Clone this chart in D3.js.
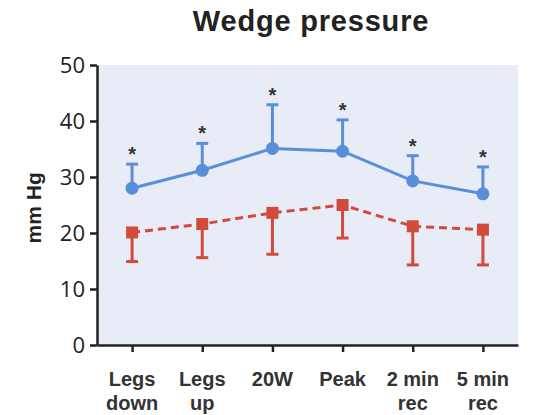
<!DOCTYPE html>
<html>
<head>
<meta charset="utf-8">
<script src="https://cdn.jsdelivr.net/npm/d3@7"></script>
<style>
  html, body { margin: 0; padding: 0; background: #fff; }
  svg { display: block; font-family: "Liberation Sans", Arial, sans-serif; }
</style>
</head>
<body>
<svg id="chart" width="539" height="415"></svg>
<script>
// Conditions along the x axis (two-line labels)
const categories = ["Legs down", "Legs up", "20W", "Peak", "2 min rec", "5 min rec"];
const categoryLines = [["Legs", "down"], ["Legs", "up"], ["20W"], ["Peak"], ["2 min", "rec"], ["5 min", "rec"]];

// Blue series: mean and upper error bar (mm Hg)
const blueMean = [28.0, 31.2, 35.1, 34.6, 29.3, 27.0];
const blueUpper = [32.3, 36.0, 42.9, 40.2, 33.8, 31.8];

// Red series: mean and lower error bar (mm Hg)
const redMean = [20.1, 21.6, 23.6, 25.0, 21.2, 20.6];
const redLower = [14.9, 15.6, 16.2, 19.1, 14.3, 14.3];

// Significance marks above the blue series
const significant = [true, true, true, true, true, true];

const yTicks = [0, 10, 20, 30, 40, 50];

const svg = d3.select("#chart");
const margin = { left: 97, right: 21, top: 65, bottom: 70 };
const W = 539, H = 415;
const plotW = W - margin.left - margin.right;
const plotH = H - margin.top - margin.bottom;

const blue = "#5b8ed8";
const red = "#d24a3c";
const ink = "#222";

const x = d3.scalePoint().domain(categories).range([0, plotW]).padding(0.5);
const y = d3.scaleLinear().domain([0, 50]).range([plotH, 0]);

// Title
svg.append("text")
  .attr("x", 311).attr("y", 31)
  .attr("text-anchor", "middle")
  .attr("font-size", 29).attr("font-weight", "bold")
  .attr("letter-spacing", 0.8)
  .attr("fill", "#222")
  .text("Wedge pressure");

const g = svg.append("g").attr("transform", `translate(${margin.left},${margin.top})`);

// Plot background
g.append("rect")
  .attr("x", 0).attr("y", 0)
  .attr("width", plotW).attr("height", plotH)
  .attr("fill", "#e8ecf7");

// Y axis
const yAxis = g.append("g")
  .call(d3.axisLeft(y).tickValues(yTicks).tickSize(7).tickPadding(5).tickSizeOuter(0));
yAxis.select(".domain").attr("stroke", ink).attr("stroke-width", 2.5);
yAxis.selectAll(".tick line").attr("stroke", ink).attr("stroke-width", 2.5);
yAxis.selectAll(".tick text")
  .attr("font-size", 22).attr("fill", ink)
  .attr("font-family", "'Open Sans', 'Liberation Sans', Arial, sans-serif");

// X axis
const xAxis = g.append("g")
  .attr("transform", `translate(0,${plotH})`)
  .call(d3.axisBottom(x).tickSize(7).tickSizeOuter(0).tickFormat(""));
xAxis.select(".domain").attr("stroke", ink).attr("stroke-width", 2.5);
xAxis.selectAll(".tick line").attr("stroke", ink).attr("stroke-width", 2.5);

// Multi-line category labels
const xLabels = g.append("g");
categories.forEach((c, i) => {
  const t = xLabels.append("text")
    .attr("x", x(c)).attr("y", plotH + 41)
    .attr("text-anchor", "middle")
    .attr("font-size", 20).attr("font-weight", "bold")
    .attr("fill", "#333");
  categoryLines[i].forEach((line, j) => {
    t.append("tspan").attr("x", x(c)).attr("dy", j === 0 ? 0 : 24).text(line);
  });
});

// Y axis title
svg.append("text")
  .attr("transform", `translate(41,${margin.top + y(24.5)}) rotate(-90)`)
  .attr("text-anchor", "middle")
  .attr("font-size", 21).attr("font-weight", "bold")
  .attr("fill", "#222")
  .text("mm Hg");

const capHalf = 6;

// Red error bars (downward)
categories.forEach((c, i) => {
  g.append("line")
    .attr("x1", x(c)).attr("x2", x(c))
    .attr("y1", y(redMean[i])).attr("y2", y(redLower[i]))
    .attr("stroke", red).attr("stroke-width", 3);
  g.append("line")
    .attr("x1", x(c) - capHalf).attr("x2", x(c) + capHalf)
    .attr("y1", y(redLower[i])).attr("y2", y(redLower[i]))
    .attr("stroke", red).attr("stroke-width", 3);
});

// Red dashed line
const line = d3.line().x((d, i) => x(categories[i])).y(d => y(d));
g.append("path")
  .datum(redMean)
  .attr("d", line)
  .attr("fill", "none")
  .attr("stroke", red).attr("stroke-width", 3)
  .attr("stroke-dasharray", "8,5");

// Red square markers
g.selectAll(".sq").data(redMean).enter().append("rect")
  .attr("x", (d, i) => x(categories[i]) - 6)
  .attr("y", d => y(d) - 6)
  .attr("width", 12).attr("height", 12)
  .attr("fill", red);

// Blue error bars (upward)
categories.forEach((c, i) => {
  g.append("line")
    .attr("x1", x(c)).attr("x2", x(c))
    .attr("y1", y(blueMean[i])).attr("y2", y(blueUpper[i]))
    .attr("stroke", blue).attr("stroke-width", 3);
  g.append("line")
    .attr("x1", x(c) - capHalf).attr("x2", x(c) + capHalf)
    .attr("y1", y(blueUpper[i])).attr("y2", y(blueUpper[i]))
    .attr("stroke", blue).attr("stroke-width", 3);
});

// Blue solid line
g.append("path")
  .datum(blueMean)
  .attr("d", line)
  .attr("fill", "none")
  .attr("stroke", blue).attr("stroke-width", 3);

// Blue circle markers
g.selectAll(".dot").data(blueMean).enter().append("circle")
  .attr("cx", (d, i) => x(categories[i]))
  .attr("cy", d => y(d))
  .attr("r", 6.5)
  .attr("fill", blue);

// Asterisks
g.selectAll(".star").data(blueUpper).enter().append("text")
  .filter((d, i) => significant[i])
  .attr("x", (d, i) => x(categories[i]))
  .attr("y", d => y(d) - 3)
  .attr("text-anchor", "middle")
  .attr("font-size", 20).attr("font-weight", "bold")
  .attr("fill", "#333")
  .text("*");
</script>
</body>
</html>
